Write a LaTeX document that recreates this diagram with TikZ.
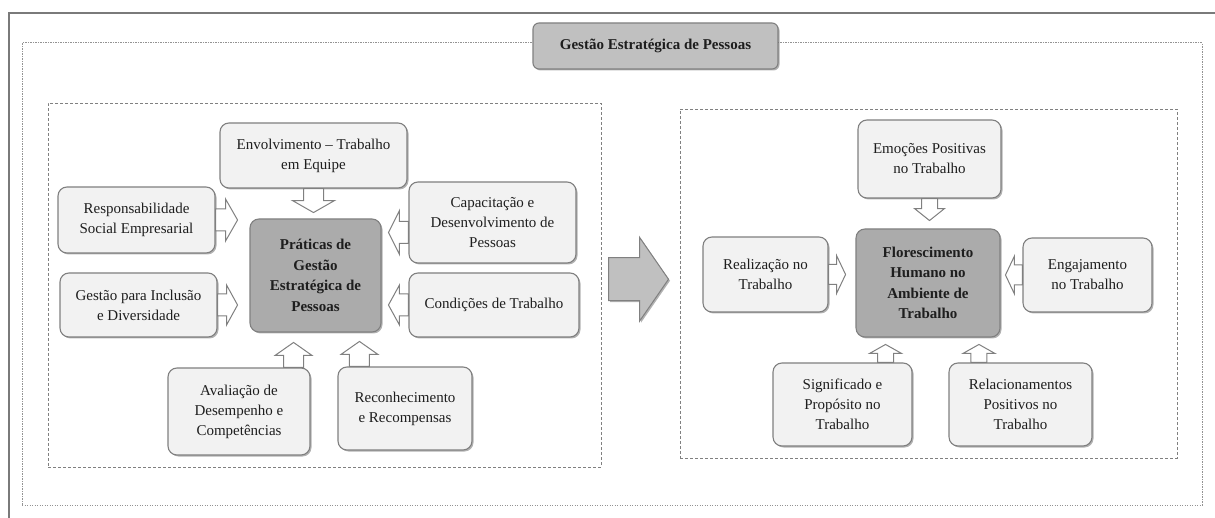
\documentclass[tikz,border=0pt]{standalone}
\usepackage{fontspec}
\setmainfont{Liberation Serif}
\usetikzlibrary{calc,shadows}

\definecolor{boxfill}{HTML}{F2F2F2}
\definecolor{boxline}{HTML}{808080}
\definecolor{corefill}{HTML}{ABABAB}
\definecolor{headfill}{HTML}{C0C0C0}
\definecolor{framegray}{HTML}{7A7A7A}
\definecolor{textgray}{HTML}{1E1E1E}

\tikzset{
  x=1pt, y=-1pt,
  every node/.style={text=textgray, font=\fontsize{15}{20}\selectfont},
  item/.style={draw=boxline, line width=1.1pt, fill=boxfill, rounded corners=9pt,
    align=center, inner sep=2pt,
    drop shadow={shadow xshift=1.5pt, shadow yshift=-1.5pt, opacity=0.3, fill=black}},
  core/.style={item, fill=corefill, font=\bfseries\fontsize{15}{20.5}\selectfont},
  headbox/.style={item, fill=headfill, rounded corners=6pt, font=\bfseries\fontsize{15}{18}\selectfont},
  panel/.style={draw=boxline, line width=0.9pt, dash pattern=on 3pt off 2pt, inner sep=0pt},
  outerframe/.style={draw=boxline!85, line width=1pt, dash pattern=on 1.3pt off 1.2pt},
  solidframe/.style={draw=framegray, line width=2pt},
  arrowline/.style={draw=boxline, line width=1pt, fill=white, line join=miter},
  bigline/.style={draw=boxline, line width=1pt, fill=headfill, line join=miter,
    drop shadow={shadow xshift=1.5pt, shadow yshift=-1.5pt, opacity=0.3, fill=black}},
  % hollow block arrow: total length, shaft length, shaft half width, head half width
  pics/blockarrow/.style n args={4}{code={
    \draw[arrowline] (0,-#3) -- (#2,-#3) -- (#2,-#4) -- (#1,0) -- (#2,#4) -- (#2,#3) -- (0,#3) -- cycle;}},
  pics/bigarrow/.style n args={4}{code={
    \draw[bigline] (0,-#3) -- (#2,-#3) -- (#2,-#4) -- (#1,0) -- (#2,#4) -- (#2,#3) -- (0,#3) -- cycle;}}
}

\begin{document}
\begin{tikzpicture}
\useasboundingbox (0,0) rectangle (1215,518);
\fill[white] (0,0) rectangle (1215,518);

% solid frame lines at the top and left
\coordinate (ftl) at (8.5,13);
\coordinate (ftr) at (1215,13);
\coordinate (fbl) at (8.5,518);
\draw[solidframe] (ftr) -- (ftl) -- (fbl);

% dotted outer frame
\node[outerframe, minimum width=1180pt, minimum height=462pt, inner sep=0pt] (outer) at (612,274) {};

% dashed panels
\node[panel, minimum width=553pt, minimum height=364pt] (leftpanel) at (324.5,285) {};
\node[panel, minimum width=497pt, minimum height=349pt] (rightpanel) at (928.5,283.5) {};

% title
\node[headbox, minimum width=245pt, minimum height=46pt] (title) at (655.5,46) {Gestão Estratégica de Pessoas};

% left panel: practices
\node[core, minimum width=131pt, minimum height=113pt] (pratic) at (315.5,275.5) {Práticas de\\Gestão\\Estratégica de\\Pessoas};
\node[item, minimum width=187pt, minimum height=65pt] (envolv) at (313.5,155.5) {Envolvimento – Trabalho\\em Equipe};
\node[item, minimum width=157pt, minimum height=66pt] (resp) at (136.5,220) {Responsabilidade\\Social Empresarial};
\node[item, minimum width=167pt, minimum height=81pt] (capac) at (492.5,222.5) {Capacitação e\\Desenvolvimento de\\Pessoas};
\node[item, minimum width=157pt, minimum height=64pt] (incl) at (138.5,305) {Gestão para Inclusão\\e Diversidade};
\node[item, minimum width=170pt, minimum height=64pt] (cond) at (494,305) {Condições de Trabalho};
\node[item, minimum width=142pt, minimum height=87pt] (aval) at (239,411.5) {Avaliação de\\Desempenho e\\Competências};
\node[item, minimum width=134pt, minimum height=83pt] (recon) at (405,408.5) {Reconhecimento\\e Recompensas};

\pic[rotate=-90] at (envolv.south) {blockarrow={24}{12}{10}{21}};
\pic at (resp.east) {blockarrow={22}{10}{11}{21}};
\pic at (incl.east) {blockarrow={20}{9}{11}{20}};
\pic[rotate=180] at ($(capac.west)+(0,10)$) {blockarrow={20}{9}{11}{22}};
\pic[rotate=180] at (cond.west) {blockarrow={20}{9}{11}{20}};
\pic[rotate=90] at ($(aval.north east)+(-17,0)$) {blockarrow={25}{12}{10}{18.5}};
\pic[rotate=90] at ($(recon.north west)+(22,0)$) {blockarrow={25}{12}{10}{18.5}};

% right panel: flourishing
\node[core, minimum width=144pt, minimum height=108pt] (flor) at (928,283) {Florescimento\\Humano no\\Ambiente de\\Trabalho};
\node[item, minimum width=143pt, minimum height=78pt] (emoc) at (929.5,159) {Emoções Positivas\\no Trabalho};
\node[item, minimum width=125pt, minimum height=75pt] (realiz) at (765.5,274.5) {Realização no\\Trabalho};
\node[item, minimum width=129pt, minimum height=74pt] (engaj) at (1087.5,275) {Engajamento\\no Trabalho};
\node[item, minimum width=139pt, minimum height=83pt] (signif) at (842.5,404.5) {Significado e\\Propósito no\\Trabalho};
\node[item, minimum width=143pt, minimum height=83pt] (relac) at (1020.5,404.5) {Relacionamentos\\Positivos no\\Trabalho};

\pic[rotate=-90] at (emoc.south) {blockarrow={22}{10}{8}{15}};
\pic at (realiz.east) {blockarrow={17}{8}{10}{19}};
\pic[rotate=180] at (engaj.west) {blockarrow={17}{8}{10}{19}};
\pic[rotate=90] at ($(signif.north east)+(-27,0)$) {blockarrow={18}{9}{8}{16}};
\pic[rotate=90] at ($(relac.north west)+(30.5,0)$) {blockarrow={18}{9}{8}{16}};

% large arrow between the panels
\coordinate (mid) at ($(leftpanel.east)!0.5!(rightpanel.west)$);
\pic at ($(mid)+(-32,-5)$) {bigarrow={60}{31}{21.5}{42}};
\end{tikzpicture}
\end{document}
